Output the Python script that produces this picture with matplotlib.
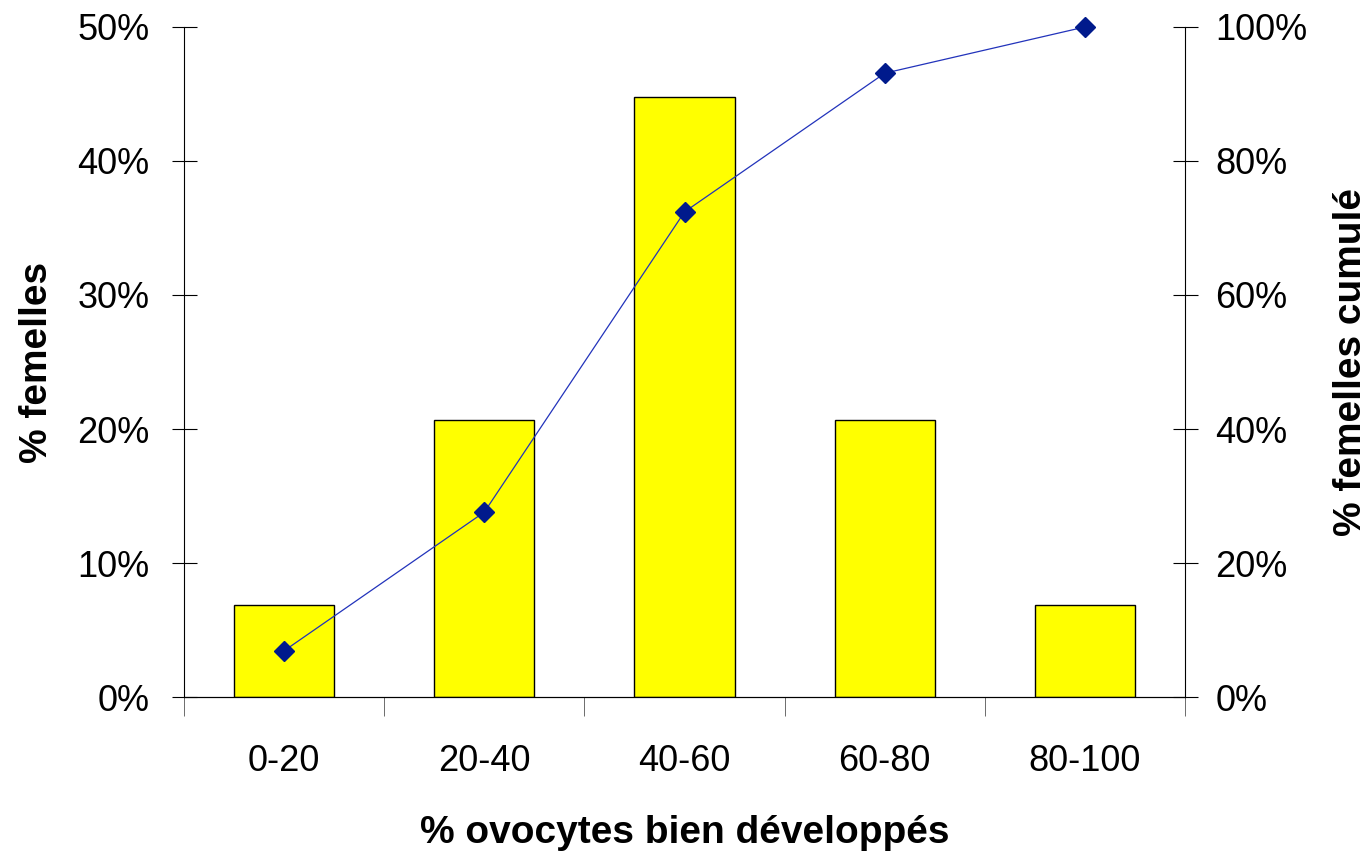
import matplotlib
matplotlib.use('Agg')
from matplotlib import pyplot as plt
import numpy as np

plt.rcParams['font.family'] = ['Liberation Sans', 'DejaVu Sans']

categories = ['0-20', '20-40', '40-60', '60-80', '80-100']
pct_femelles = [6.9, 20.7, 44.8, 20.7, 6.9]
pct_cumule = [6.9, 27.6, 72.4, 93.1, 100.0]

fig = plt.figure(figsize=(13.7, 8.56), dpi=100)
ax = fig.add_axes([0.1343, 0.1857, 0.7307, 0.7828])
x = np.arange(len(categories))
ax.bar(x, pct_femelles, width=0.5, color='#FFFF00', edgecolor='black', linewidth=1)
ax.set_xlim(-0.5, len(categories) - 0.5)
ax.set_ylim(0, 50)
ax.set_yticks(np.arange(0, 51, 10))
ax.set_yticklabels([f'{v}%' for v in range(0, 51, 10)])
ax.set_xticks(x)
ax.set_xticklabels(categories)
ax.set_xticks(np.arange(-0.5, len(categories), 1), minor=True)
ax.tick_params(axis='x', which='major', length=0, labelsize=26, pad=34)
ax.tick_params(axis='x', which='minor', length=14, direction='out', color='#555555')
ax.tick_params(axis='y', length=18, direction='inout', labelsize=26, pad=16)
ax.spines['top'].set_visible(False)
ax.spines['right'].set_visible(False)
ax.set_ylabel('% femelles', fontsize=28, fontweight='bold', labelpad=16)
ax.set_xlabel('% ovocytes bien développés', fontsize=28, fontweight='bold', labelpad=26)

ax2 = ax.twinx()
ax2.plot(x, pct_cumule, color='#2233BB', linewidth=0.9, marker='D', markersize=10,
         markerfacecolor='#001A8C', markeredgecolor='#001A8C', clip_on=False)
ax2.set_ylim(0, 100)
ax2.set_yticks(np.arange(0, 101, 20))
ax2.set_yticklabels([f'{v}%' for v in range(0, 101, 20)])
ax2.tick_params(axis='y', length=18, direction='inout', labelsize=26, pad=13)
ax2.spines['top'].set_visible(False)
ax2.spines['left'].set_visible(False)
ax2.set_ylabel('% femelles cumulé', fontsize=28, fontweight='bold', labelpad=18)

fig.savefig('out.png', dpi=100)
